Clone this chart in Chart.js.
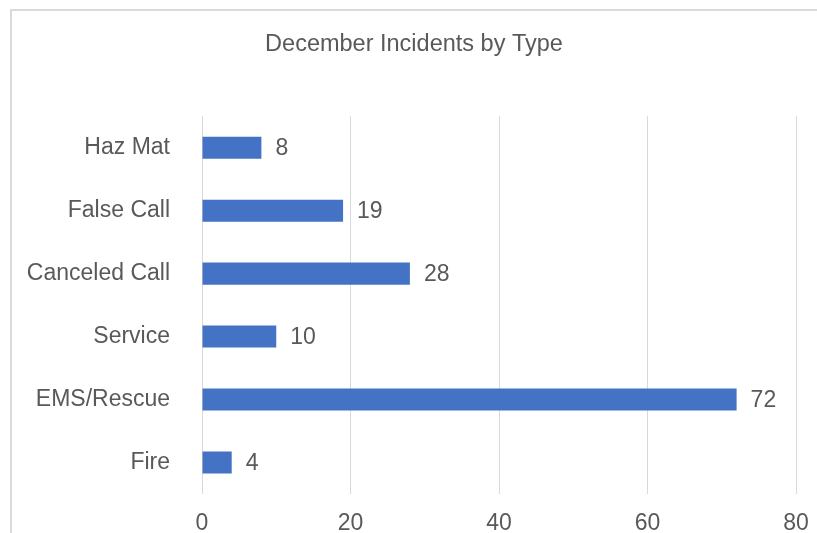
<!DOCTYPE html>
<html>
<head>
<meta charset="utf-8">
<script src="https://cdn.jsdelivr.net/npm/chart.js@4"></script>
<style>
  body { margin: 0; background: #fff; }
  #wrap { position: relative; width: 817px; height: 533px; overflow: hidden; }
  #frame { position: absolute; left: 10px; top: 9px; width: 900px; height: 600px; border: 2px solid #d9d9d9; }
  canvas { position: absolute; left: 0; top: 0; }
</style>
</head>
<body>
<div id="wrap">
  <div id="frame"></div>
  <canvas id="chart" width="817" height="533"></canvas>
</div>
<script>
const categories = ["Haz Mat", "False Call", "Canceled Call", "Service", "EMS/Rescue", "Fire"];
const incidents = [8, 19, 28, 10, 72, 4];
const xTicks = [0, 20, 40, 60, 80];

const textColor = "#595959";
const fontFamily = "'Liberation Sans', Arial, sans-serif";

// value labels right of each bar
const barLabels = {
  id: "barLabels",
  afterDatasetsDraw(chart) {
    const ctx = chart.ctx;
    const meta = chart.getDatasetMeta(0);
    ctx.save();
    ctx.fillStyle = textColor;
    ctx.font = "23px " + fontFamily;
    ctx.textAlign = "left";
    ctx.textBaseline = "middle";
    meta.data.forEach((bar, i) => {
      ctx.fillText(String(incidents[i]), bar.x + 14, bar.y + 1);
    });
    ctx.restore();
  }
};

const ctx = document.getElementById("chart").getContext("2d");

new Chart(ctx, {
  type: "bar",
  data: {
    labels: categories,
    datasets: [{
      label: "Incidents",
      data: incidents,
      backgroundColor: "#4472C4",
      barPercentage: 0.35,
      categoryPercentage: 1
    }]
  },
  options: {
    indexAxis: "y",
    responsive: false,
    animation: false,
    layout: { padding: { left: 11, right: 0, top: 0, bottom: 0 } },
    plugins: {
      legend: { display: false },
      tooltip: { enabled: false },
      title: {
        display: true,
        text: "December Incidents by Type",
        color: textColor,
        font: { family: fontFamily, size: 23.5, weight: "normal" },
        padding: { top: 30, bottom: 58 }
      }
    },
    scales: {
      x: {
        min: 0,
        max: 80,
        afterBuildTicks(scale) {
          scale.ticks = xTicks.map(v => ({ value: v }));
        },
        afterFit(scale) {
          scale.height = 39;
          scale.paddingRight = 21;
        },
        grid: { color: "#d9d9d9", lineWidth: 1, drawTicks: false },
        border: { display: false },
        ticks: {
          color: textColor,
          padding: 16,
          font: { family: fontFamily, size: 23 }
        }
      },
      y: {
        afterFit(scale) {
          scale.width = 191;
          scale.paddingTop = 0;
          scale.paddingBottom = 0;
        },
        grid: { display: false, drawTicks: false },
        border: { display: false },
        ticks: {
          color: textColor,
          padding: 32,
          font: { family: fontFamily, size: 23 }
        }
      }
    }
  },
  plugins: [barLabels]
});
</script>
</body>
</html>
